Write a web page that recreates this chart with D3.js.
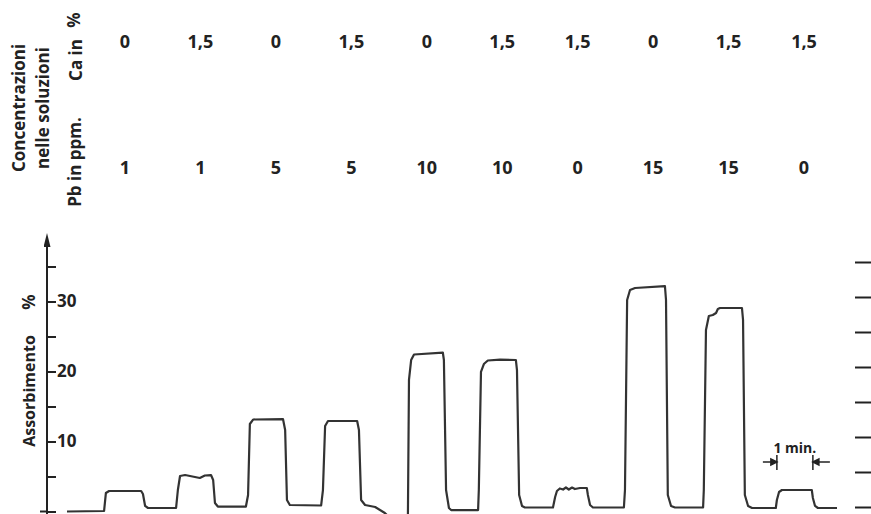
<!DOCTYPE html>
<html>
<head>
<meta charset="utf-8">
<script src="https://cdn.jsdelivr.net/npm/d3@7"></script>
<style>
body { margin: 0; background: #fff; }
text { font-family: "Open Sans", "DejaVu Sans", sans-serif; font-weight: 700; fill: #222; }
</style>
</head>
<body>
<script>
//concentrations of the ten test solutions
var caPercent = ["0", "1,5", "0", "1,5", "0", "1,5", "1,5", "0", "1,5", "1,5"];
var pbPpm = ["1", "1", "5", "5", "10", "10", "0", "15", "15", "0"];

//recorder trace: time (min) and absorption (%)
var traceTime = [0, 1.03, 1.08, 1.17, 2.06, 2.11, 2.17, 2.25, 3.03, 3.08, 3.14, 3.28, 3.69, 3.83, 4.00,
    4.06, 4.11, 4.19, 4.97, 5.03, 5.08, 5.17, 6.00, 6.06, 6.11, 6.19, 7.06, 7.11, 7.17, 7.25,
    8.06, 8.11, 8.17, 8.28, 8.56, 8.83, 8.97, 9.42, 9.47, 9.50, 9.56, 9.64, 10.44, 10.47, 10.53,
    10.61, 10.67, 11.42, 11.44, 11.50, 11.58, 11.69, 12.03, 12.47, 12.50, 12.56, 12.64, 12.72,
    13.50, 13.56, 13.61, 13.69, 13.78, 13.86, 13.94, 14.03, 14.11, 14.25, 14.44, 14.47, 14.53,
    14.61, 15.47, 15.50, 15.56, 15.64, 15.78, 16.61, 16.64, 16.69, 16.78, 16.89, 17.67, 17.69,
    17.75, 17.83, 17.94, 18.03, 18.08, 18.14, 18.75, 18.78, 18.83, 18.92, 19.03, 19.69, 19.72,
    19.78, 19.86, 20.69, 20.72, 20.78, 20.86, 21.39];
var traceAbs = [0, 0.07, 2.64, 2.93, 2.93, 2.5, 0.79, 0.5, 0.5, 3.07, 5.07, 5.21, 4.79, 5.14, 5.21,
    4.5, 1.21, 0.71, 0.71, 2.36, 12.5, 13.14, 13.21, 11.64, 1.64, 0.93, 0.86, 3.07, 12.21, 12.93,
    12.93, 11.64, 1.64, 0.93, 0.64, -0.21, -0.93, -0.93, -0.64, 18.79, 21.64, 22.43, 22.71, 21.64, 3.07,
    0.5, 0.21, 0.21, 3.07, 19.93, 21.07, 21.57, 21.71, 21.64, 20.21, 2.36, 0.79, 0.57,
    0.57, 2.07, 2.93, 3.29, 3.14, 3.43, 3.14, 3.43, 3.21, 3.36, 3.36, 2.36, 0.93,
    0.57, 0.57, 3.07, 30.21, 31.64, 31.93, 32.21, 30.21, 2.36, 0.79, 0.57, 0.57, 3.07,
    25.93, 27.93, 28.07, 28.36, 28.93, 29.07, 29.07, 27.36, 2.36, 0.79, 0.5, 0.5, 1.64,
    2.79, 3.07, 3.07, 1.93, 0.79, 0.5, 0.5];

var absTicks = [0, 5, 10, 15, 20, 25, 30, 35];
var absLabels = [10, 20, 30];

//one minute marker on the time axis
var minuteMark = [19.72, 20.72];

var width = 871,
    height = 514;

var svg = d3.select("body")
    .append("svg")
    .attr("width", width)
    .attr("height", height);

//scales
var x = d3.scaleLinear().domain([0, 21.39]).range([67, 837]);
var y = d3.scaleLinear().domain([0, 35]).range([511.5, 266.5]);
var yRight = d3.scaleLinear().domain([0, 35]).range([507, 262]);
var sample = d3.scalePoint().domain(d3.range(caPercent.length)).range([125, 804]);

//left axis with arrow
svg.append("defs").append("marker")
    .attr("id", "arrow")
    .attr("viewBox", "0 0 14 7")
    .attr("refX", 0).attr("refY", 3.5)
    .attr("markerWidth", 14).attr("markerHeight", 7)
    .attr("markerUnits", "userSpaceOnUse")
    .attr("orient", "auto")
    .append("path")
    .attr("d", "M0,0 L14,3.5 L0,7 Z")
    .attr("fill", "#222");

svg.append("line")
    .attr("x1", 47).attr("x2", 47)
    .attr("y1", height).attr("y2", 247)
    .attr("stroke", "#222").attr("stroke-width", 2)
    .attr("marker-end", "url(#arrow)");

var yAxis = svg.append("g")
    .attr("transform", "translate(47,0)")
    .call(d3.axisRight(y)
        .tickValues(absTicks)
        .tickSize(9)
        .tickPadding(1)
        .tickFormat(function(d){ return absLabels.indexOf(d) >= 0 ? d : ""; }));
yAxis.select(".domain").remove();
yAxis.selectAll("line").attr("stroke", "#222").attr("stroke-width", 2);
yAxis.selectAll("text")
    .style("font-family", "'Open Sans', sans-serif")
    .style("font-size", "17px")
    .style("font-weight", "700")
    .attr("fill", "#222");

//short base stroke left of the axis
svg.append("line")
    .attr("x1", 40).attr("x2", 47)
    .attr("y1", y(0)).attr("y2", y(0))
    .attr("stroke", "#222").attr("stroke-width", 2);

//right edge scale ticks
var rAxis = svg.append("g")
    .attr("transform", "translate(871,0)")
    .call(d3.axisLeft(yRight).tickValues(absTicks).tickSize(16).tickFormat(""));
rAxis.select(".domain").remove();
rAxis.selectAll("line").attr("stroke", "#222").attr("stroke-width", 2);

//recorder trace
var line = d3.line()
    .x(function(d){ return x(d[0]); })
    .y(function(d){ return y(d[1]); });

svg.append("path")
    .datum(d3.zip(traceTime, traceAbs))
    .attr("d", line)
    .attr("fill", "none")
    .attr("stroke", "#333")
    .attr("stroke-width", 2.2)
    .attr("stroke-linejoin", "round");

//rotated labels
function vlabel(text, cx, cy, size){
    svg.append("text")
        .attr("transform", "translate(" + cx + "," + cy + ") rotate(-90)")
        .attr("text-anchor", "middle")
        .style("font-size", size + "px")
        .text(text);
}

vlabel("Assorbimento", 35, 391, 16);
vlabel("%", 35, 302, 17);
vlabel("Concentrazioni", 25, 108, 17);
vlabel("nelle  soluzioni", 49, 108, 17);
vlabel("Ca in", 82, 60, 17);
vlabel("%", 80, 20, 17);
vlabel("Pb in ppm.", 81, 162, 17);

svg.selectAll(".ca")
    .data(caPercent)
    .enter()
    .append("text")
    .attr("class", "ca")
    .attr("x", function(d, i){ return sample(i); })
    .attr("y", 48)
    .attr("text-anchor", "middle")
    .style("font-size", "18px")
    .text(function(d){ return d; });

svg.selectAll(".pb")
    .data(pbPpm)
    .enter()
    .append("text")
    .attr("class", "pb")
    .attr("x", function(d, i){ return sample(i); })
    .attr("y", 174)
    .attr("text-anchor", "middle")
    .style("font-size", "18px")
    .text(function(d){ return d; });

//1 min. bracket
var mark = svg.append("g").attr("stroke", "#222").attr("stroke-width", 1.5);
var x0 = x(minuteMark[0]), x1 = x(minuteMark[1]);
mark.append("line").attr("x1", x0).attr("x2", x0).attr("y1", 455).attr("y2", 470);
mark.append("line").attr("x1", x1).attr("x2", x1).attr("y1", 455).attr("y2", 470);
mark.append("line").attr("x1", x0 - 14).attr("x2", x0).attr("y1", 462).attr("y2", 462);
mark.append("line").attr("x1", x1).attr("x2", x1 + 17).attr("y1", 462).attr("y2", 462);
mark.append("path").attr("d", "M" + x0 + ",462 l-6,-3 l0,6 Z").attr("fill", "#222");
mark.append("path").attr("d", "M" + x1 + ",462 l6,-3 l0,6 Z").attr("fill", "#222");

svg.append("text")
    .attr("x", (x0 + x1) / 2)
    .attr("y", 453)
    .attr("text-anchor", "middle")
    .style("font-size", "14px")
    .text("1 min.");
</script>
</body>
</html>
